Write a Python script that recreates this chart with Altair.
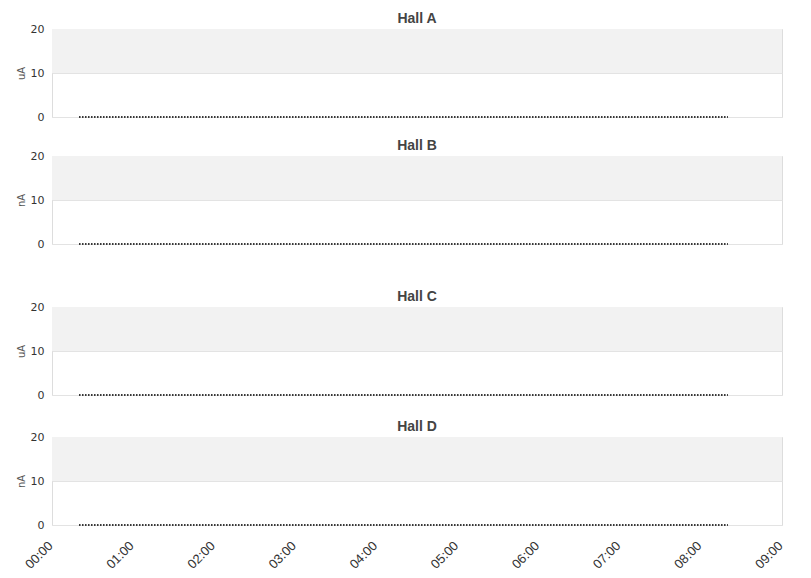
import altair as alt
import pandas as pd

# Panel titles and the unit shown on each y axis.
halls = ["Hall A", "Hall B", "Hall C", "Hall D"]
units = ["uA", "nA", "uA", "nA"]

# Beam current readings (all zero over the shown period).
times = ["00:20", "01:00", "02:00", "03:00", "04:00", "05:00", "06:00", "07:00", "08:00", "08:20"]
current_a = [0, 0, 0, 0, 0, 0, 0, 0, 0, 0]
current_b = [0, 0, 0, 0, 0, 0, 0, 0, 0, 0]
current_c = [0, 0, 0, 0, 0, 0, 0, 0, 0, 0]
current_d = [0, 0, 0, 0, 0, 0, 0, 0, 0, 0]

# Y axis ticks and the shaded band.
y_ticks = [0, 10, 20]
band = [10, 20]

panel_width = 730
panel_height = 88

day = "2024-01-01T"
x_domain = [day + "00:00:00Z", day + "09:00:00Z"]


def _panel(title, unit, values, show_x):
    df = pd.DataFrame({"t": [day + t + ":00Z" for t in times], "v": values})
    df["lo"] = band[0]
    df["hi"] = band[1]

    if show_x:
        x_axis = alt.Axis(
            format="%H:%M", labelAngle=-45, tickCount="hour",
            grid=False, ticks=False, domain=False, labelFontSize=13, labelColor="#333",
            labelFont="Liberation Sans", labelPadding=14, labelOffset=-6, title=None,
        )
    else:
        x_axis = None
    x = alt.X("t:T", scale=alt.Scale(type="utc", domain=x_domain), axis=x_axis)
    y_scale = alt.Scale(domain=[0, 20], nice=False)
    y = alt.Y(
        "v:Q", scale=y_scale,
        axis=alt.Axis(values=y_ticks, ticks=False, domain=False, gridColor="#e3e3e3",
                      labelFontSize=11, labelColor="#333", labelFont="DejaVu Sans",
                      labelPadding=8, title=unit, titleFontSize=10, titleFontWeight="normal",
                      titleColor="#555", titleFont="DejaVu Sans", titlePadding=4),
    )

    base = alt.Chart(df)
    shade = base.transform_aggregate(lo="min(lo)", hi="max(hi)").mark_rect(
        color="#f2f2f2"
    ).encode(
        x=alt.value(0), x2=alt.value(panel_width),
        y=alt.Y("lo:Q", scale=y_scale),
        y2="hi:Q",
    )

    line = base.mark_line(
        color="#333", strokeWidth=2, strokeDash=[1.5, 1.5]
    ).encode(x=x, y=y)

    return alt.layer(shade, line).properties(
        width=panel_width, height=panel_height,
        title=alt.TitleParams(title, fontSize=14, font="Liberation Sans", fontWeight="bold",
                              color="#444", anchor="middle", offset=-3),
    )


a = _panel(halls[0], units[0], current_a, False)
b = _panel(halls[1], units[1], current_b, False)
c = _panel(halls[2], units[2], current_c, False)
d = _panel(halls[3], units[3], current_d, True)

top = alt.vconcat(a, b, spacing=15)
bottom = alt.vconcat(c, d, spacing=18)

chart = alt.vconcat(top, bottom, spacing=39).properties(
    padding={"left": 7, "top": 3, "right": 5, "bottom": 5}
).configure_view(
    stroke="#dddddd", strokeWidth=1
)

chart.save("out.html", embed_options={"renderer": "svg", "actions": False})
